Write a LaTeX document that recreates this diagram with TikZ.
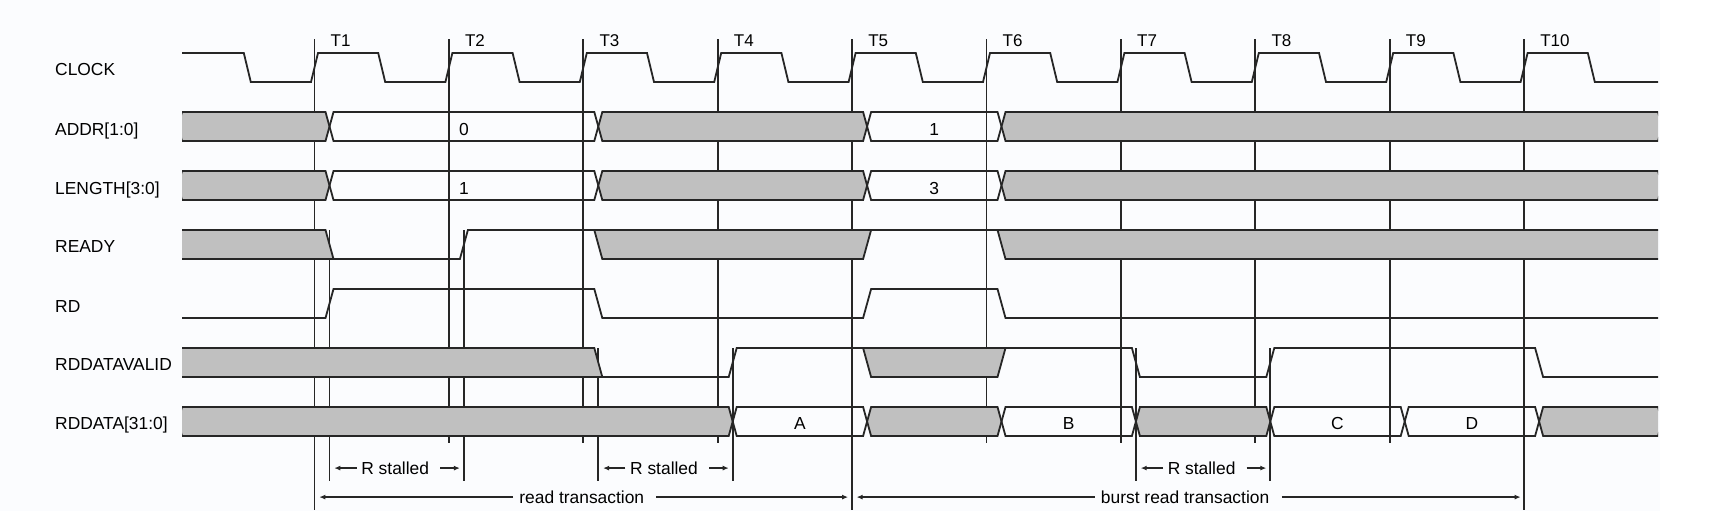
\documentclass[tikz,border=0pt]{standalone}
\usepackage{fontspec}
\setmainfont{Liberation Sans}
\usetikzlibrary{arrows.meta}
\definecolor{undef}{RGB}{192,192,192}
\definecolor{ink}{RGB}{38,38,38}
\definecolor{paper}{RGB}{251,252,254}
\newcommand\tx[1]{180.1+134.4*#1}
\newcommand\ex[1]{195.1+134.4*#1}
\begin{document}
\begin{tikzpicture}[x=1pt, y=-1pt,
    sig/.style={draw=ink, line width=1.8pt},
    tick/.style={draw=ink, line width=1.8pt},
    lbl/.style={anchor=base west, inner sep=0, font=\fontsize{17.4}{20}\selectfont},
    tlbl/.style={anchor=base west, inner sep=0, font=\fontsize{17}{19}\selectfont},
    val/.style={anchor=base, inner sep=0, font=\fontsize{17.4}{20}\selectfont},
    span/.style={anchor=base, inner ysep=0, font=\fontsize{17.4}{20}\selectfont},
    arr/.style={draw=ink, line width=1.4pt, -{Latex[length=6pt,width=5pt]}},
  ]
  \useasboundingbox (0,0) rectangle (1728,531);
  \fill[white] (0,0) rectangle (1728,531);
  \fill[paper] (0,0) rectangle (1660,511);
  \node[lbl] (clk) at (55,75.7) {CLOCK};
  \node[lbl] (addr) at (55,135) {ADDR[1:0]};
  \node[lbl] (len) at (55,194.3) {LENGTH[3:0]};
  \node[lbl] (rdy) at (55,252.8) {READY};
  \node[lbl] (rd) at (55,312.3) {RD};
  \node[lbl] (rdv) at (55,370.7) {RDDATAVALID};
  \node[lbl] (rdd) at (55,429.3) {RDDATA[31:0]};
  \foreach \k in {1,...,10} {
    \draw[tick] ({\tx{\k}},39) -- ({\tx{\k}},443);
    \node[tlbl] (t\k) at ({\tx{\k}+16},46) {T\k};
  }
  \foreach \k in {1,5,10} {
    \draw[tick] ({\tx{\k}},443) -- ({\tx{\k}},510);
    \coordinate (g\k) at ({\tx{\k}},510);
  }
  \foreach \k/\y in {1/230,2/230,3/348,4/348,7/348,8/348} {
    \draw[tick] ({\ex{\k}},\y) -- ({\ex{\k}},481);
    \coordinate (s\k) at ({\ex{\k}},481);
  }
  \begin{scope}
    \clip (182,0) rectangle (1658,531);
    \draw[sig] (178,53) \foreach \k in {0,...,9} { -- ({\tx{\k}+63.7},53) -- ({\tx{\k}+70.7},82) -- ({\tx{\k}+130.9},82) -- ({\tx{\k}+137.9},53) }
      -- ({\tx{10}+63.7},53) -- ({\tx{10}+70.7},82) -- (1662,82);
    \foreach \y in {112,171}
      \foreach \a/\b/\c in {178/\ex{1}/undef, \ex{1}/\ex{3}/none, \ex{3}/\ex{5}/undef, \ex{5}/\ex{6}/none, \ex{6}/1662/undef}
        \filldraw[sig, fill=\c] ({\a},\y+14.5) -- ({\a+4},\y) -- ({\b-4},\y) -- ({\b},\y+14.5) -- ({\b-4},\y+29) -- ({\a+4},\y+29) -- cycle;
    \fill[undef] (178,230) -- ({\ex{1}-4},230) -- ({\ex{1}+4},259) -- (178,259) -- cycle;
    \fill[undef] ({\ex{3}-4},230) -- ({\ex{3}+4},259) -- ({\ex{5}-4},259) -- ({\ex{5}+4},230) -- cycle;
    \fill[undef] ({\ex{6}-4},230) -- ({\ex{6}+4},259) -- (1662,259) -- (1662,230) -- cycle;
    \draw[sig] (178,230) -- ({\ex{1}-4},230) -- ({\ex{1}+4},259) -- ({\ex{2}-4},259) -- ({\ex{2}+4},230) -- (1662,230);
    \draw[sig] (178,259) -- ({\ex{1}+4},259);
    \draw[sig] ({\ex{3}-4},230) -- ({\ex{3}+4},259) -- ({\ex{5}-4},259) -- ({\ex{5}+4},230);
    \draw[sig] ({\ex{6}-4},230) -- ({\ex{6}+4},259) -- (1662,259);
    \draw[sig] (178,318) -- ({\ex{1}-4},318) -- ({\ex{1}+4},289) -- ({\ex{3}-4},289) -- ({\ex{3}+4},318) -- ({\ex{5}-4},318)
      -- ({\ex{5}+4},289) -- ({\ex{6}-4},289) -- ({\ex{6}+4},318) -- (1662,318);
    \fill[undef] (178,348) -- ({\ex{3}-4},348) -- ({\ex{3}+4},377) -- (178,377) -- cycle;
    \filldraw[sig, fill=undef] ({\ex{5}-4},348) -- ({\ex{5}+4},377) -- ({\ex{6}-4},377) -- ({\ex{6}+4},348);
    \draw[sig] (178,348) -- ({\ex{3}-4},348) -- ({\ex{3}+4},377) -- ({\ex{4}-4},377) -- ({\ex{4}+4},348) -- ({\ex{7}-4},348) -- ({\ex{7}+4},377)
      -- ({\ex{8}-4},377) -- ({\ex{8}+4},348) -- ({\ex{10}-4},348) -- ({\ex{10}+4},377) -- (1662,377);
    \draw[sig] (178,377) -- ({\ex{3}+4},377);
    \foreach \a/\b/\c in {178/\ex{4}/undef, \ex{4}/\ex{5}/none, \ex{5}/\ex{6}/undef, \ex{6}/\ex{7}/none, \ex{7}/\ex{8}/undef, \ex{8}/\ex{9}/none, \ex{9}/\ex{10}/none, \ex{10}/1662/undef}
      \filldraw[sig, fill=\c] ({\a},421.5) -- ({\a+4},407) -- ({\b-4},407) -- ({\b},421.5) -- ({\b-4},436) -- ({\a+4},436) -- cycle;
  \end{scope}
  \node[val] (a0) at ({(\ex{1}+\ex{3})/2},135) {0};
  \node[val] (a1) at ({(\ex{5}+\ex{6})/2},135) {1};
  \node[val] (l1) at ({(\ex{1}+\ex{3})/2},194.3) {1};
  \node[val] (l3) at ({(\ex{5}+\ex{6})/2},194.3) {3};
  \node[val] (dA) at ({(\ex{4}+\ex{5})/2},429.5) {A};
  \node[val] (dB) at ({(\ex{6}+\ex{7})/2},429.5) {B};
  \node[val] (dC) at ({(\ex{8}+\ex{9})/2},429.5) {C};
  \node[val] (dD) at ({(\ex{9}+\ex{10})/2},429.5) {D};
  \foreach \p/\q in {1/2,3/4,7/8} {
    \node[span, inner xsep=4.5pt] (rs\p) at ({(\ex{\p}+\ex{\q})/2-1.5},474.3) {R stalled};
    \draw[arr, shorten >=4.8pt] (rs\p.west) -- (rs\p.west -| s\p);
    \draw[arr, shorten <=6.5pt, shorten >=4pt] (rs\p.east) -- (rs\p.east -| s\q);
  }
  \node[span, inner xsep=6pt] (rt) at ({(\tx{1}+\tx{5})/2-1.5},503.3) {read transaction};
  \draw[arr, shorten >=4.8pt] (rt.west) -- (rt.west -| g1);
  \draw[arr, shorten <=6pt, shorten >=4pt] (rt.east) -- (rt.east -| g5);
  \node[span, inner xsep=6pt] (bt) at ({(\tx{5}+\tx{10})/2-3},503.3) {burst read transaction};
  \draw[arr, shorten >=4.5pt] (bt.west) -- (bt.west -| g5);
  \draw[arr, shorten <=6.5pt, shorten >=3.5pt] (bt.east) -- (bt.east -| g10);
\end{tikzpicture}
\end{document}
